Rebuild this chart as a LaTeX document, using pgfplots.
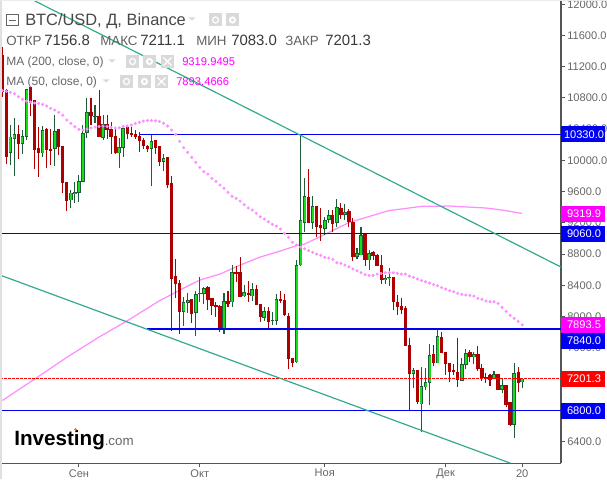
\documentclass[border=0pt]{standalone}
\usepackage{fontspec}
\setmainfont{Liberation Sans}
\usepackage{pgfplots}
\usepackage{pgfplotstable}
\pgfplotsset{compat=1.18}
\definecolor{candleRed}{HTML}{AE0000}
\definecolor{candleDark}{HTML}{1E5C3C}
\definecolor{candleGreen}{HTML}{14E014}
\definecolor{maPink}{HTML}{FF8FFF}
\definecolor{trendTeal}{HTML}{35A98F}
\definecolor{levelBlue}{HTML}{0000F0}
\definecolor{axisGray}{HTML}{555555}
\definecolor{labelGray}{HTML}{666666}
\definecolor{iconGray}{HTML}{D9D9D9}
\definecolor{boxMagenta}{HTML}{FF00FF}

% i high top bottom low
\pgfplotstableread{
i high top bottom low
0 11453 11350 10876 10812
1 10915 10902 10047 9953
4 10453 10338 10210 10018
7 10944 10944 10739 10569
8 10774 10774 10133 9889
9 10431 10159 10094 9791
11 10415 10402 10133 9902
12 10402 10146 10120 9941
14 10402 10402 10175 10069
15 10184 10184 9714 9582
16 9723 9723 9483 9355
22 10799 10620 10572 10453
24 10902 10569 10303 10303
26 10581 10466 10389 10274
27 10492 10402 10303 10082
28 10415 10312 10094 10082
31 10453 10431 10338 10274
32 10431 10351 10329 10299
33 10389 10338 10299 10274
34 10367 10312 10252 10111
35 10287 10261 10188 10146
36 10197 10188 10146 10107
38 10261 10261 10162 10082
39 10184 10184 9983 9928
41 10043 10043 9688 9646
42 9800 9710 8484 7817
43 8736 8518 8416 8240
44 8467 8429 8061 7779
47 8224 8224 8031 7920
51 8390 8377 8211 8083
52 8236 8236 8134 8019
53 8189 8147 8121 7997
54 8147 8134 7852 7804
56 8326 8198 8160 8125
58 8646 8570 8544 8441
59 8762 8570 8253 8253
61 8454 8300 8275 8189
63 8403 8352 8147 8147
64 8159 8159 7997 7933
66 8125 8070 7933 7835
69 8326 8224 8198 8172
70 8288 8207 8019 8006
71 8048 8006 7455 7330
72 7468 7468 7403 7352
76 9889 9527 9201 9201
78 9415 9415 9150 9022
79 9390 9172 9133 8971
82 9364 9300 9185 9086
84 9458 9390 9300 9249
86 9377 9351 9210 9146
87 9262 9210 8762 8710
90 9069 9065 8723 8650
92 8839 8826 8775 8723
93 8800 8787 8646 8646
94 8787 8659 8467 8416
97 8505 8505 8185 8083
98 8275 8185 8121 8019
99 8236 8134 8083 8031
100 8134 8108 7625 7625
101 7724 7634 7263 6801
103 7314 7314 6904 6878
107 7634 7519 7403 7365
109 7801 7737 7532 7532
110 7544 7544 7391 7250
111 7403 7403 7288 7160
112 7391 7314 7288 7250
113 7724 7288 7186 7096
116 7570 7544 7480 7416
118 7621 7519 7323 7301
119 7391 7339 7211 7177
120 7275 7224 7198 7151
121 7263 7250 7186 7109
123 7263 7263 7058 7058
125 7122 7122 6865 6844
126 6904 6904 6609 6596
128 7352 7288 7147 7032
}\downT

\pgfplotstableread{
i high top bottom low
2 10453 10303 10098 9941
3 10547 10338 10278 9800
5 10389 10312 10210 10082
6 10915 10915 10303 10261
10 10444 10389 10094 10043
13 10581 10376 10146 9928
17 9620 9586 9492 9390
18 9727 9595 9573 9458
19 9813 9736 9586 9470
20 10453 10347 9727 9727
21 10799 10620 10355 10287
23 10710 10569 10556 10479
25 10581 10466 10290 10261
29 10287 10171 10094 9906
30 10453 10415 10162 10047
37 10325 10248 10146 9675
40 10082 10030 9983 9868
45 8253 8185 8061 7882
46 8304 8211 8176 8048
48 8330 8288 8048 7749
49 8505 8300 8292 8185
50 8381 8364 8292 8160
55 8304 8198 7852 7779
57 8659 8570 8181 8125
60 8403 8310 8258 8253
62 8429 8352 8262 8198
65 8125 8070 7984 7941
67 8061 7954 7945 7890
68 8288 8224 7945 7890
73 8723 8659 7416 7407
74 10325 9236 8659 8650
75 9778 9543 9201 9086
77 9543 9415 9201 9124
80 9278 9236 9124 9044
81 9364 9300 9236 9201
83 9505 9402 9201 9146
85 9441 9338 9300 9236
88 8877 8813 8762 8736
89 9146 9044 8787 8787
91 8851 8813 8723 8595
95 8531 8493 8467 8416
96 8621 8505 8489 8390
102 7339 7314 7263 7087
104 7352 7109 6878 6523
105 7339 7160 7096 7058
106 7647 7506 7151 6865
108 7852 7749 7403 7403
114 7468 7391 7177 7177
115 7583 7532 7382 7330
117 7548 7519 7480 7391
122 7301 7263 7198 7198
124 7198 7122 7058 7019
127 7403 7275 6613 6446
129 7211 7201 7157 7083
}\upT

\pgfplotstableread{
i ma
0 10895
1 10885
2 10872
3 10854
4 10816
5 10783
6 10761
7 10748
8 10735
9 10731
10 10718
11 10697
12 10667
13 10645
14 10616
15 10578
16 10517
17 10475
18 10431
19 10398
20 10389
21 10402
22 10415
23 10428
24 10434
25 10440
26 10434
27 10424
28 10415
29 10419
30 10434
31 10440
32 10453
33 10472
34 10488
35 10504
36 10511
37 10511
38 10508
39 10498
40 10475
41 10440
42 10389
43 10334
44 10244
45 10162
46 10103
47 10039
48 9975
49 9911
50 9855
51 9825
52 9770
53 9732
54 9684
55 9642
56 9591
57 9540
58 9514
59 9479
60 9432
61 9390
62 9364
63 9322
64 9278
65 9249
66 9214
67 9181
68 9159
69 9121
70 9065
71 9014
72 8950
73 8916
74 8890
75 8868
76 8843
77 8822
78 8800
79 8784
80 8758
81 8749
82 8732
83 8689
84 8681
85 8659
86 8637
87 8608
88 8586
89 8561
90 8535
91 8527
92 8527
93 8544
94 8553
95 8561
96 8561
97 8561
98 8553
99 8544
100 8544
101 8518
102 8502
103 8480
104 8461
105 8445
106 8429
107 8409
108 8394
109 8371
110 8352
111 8330
112 8317
113 8297
114 8284
115 8275
116 8271
117 8262
118 8233
119 8220
120 8198
121 8189
122 8189
123 8168
124 8117
125 8066
126 8015
127 7976
128 7938
129 7893.5
}\maFifty

\pgfplotstableread{
i ma
0 6923
8 7198
16 7477
24 7737
31 7946
39 8202
45 8364
49 8467
54 8544
59 8659
64 8762
69 8839
73 8909
75 8928
81 9076
86 9204
91 9281
96 9358
99 9377
104 9411
111 9415
120 9390
124 9364
129 9319.9
}\maTwoHundred

% pixel helpers for the overlay
\newcommand{\pricebox}[3]{%
  \fill[#1] (561,#2-8) rectangle (605,#2+8);
  \node[anchor=center,inner sep=0,text=white,font=\fontsize{8.3}{10}\selectfont] at (584,#2) {#3};}
\newcommand{\ddtri}[2]{\fill[iconGray] (#1-3.5,#2-1.7) -- (#1+3.5,#2-1.7) -- (#1,#2+1.7) -- cycle;}
\newcommand{\eyeicon}[2]{\fill[iconGray] (#1,#2-6.5) rectangle (#1+13,#2+6.5);
  \draw[white,line width=.9pt] (#1+6.5,#2) circle[radius=3];}
\newcommand{\gearicon}[2]{\fill[iconGray] (#1,#2-6.5) rectangle (#1+13,#2+6.5);
  \draw[white,line width=1.4pt] (#1+6.5,#2) circle[radius=2.6];}
\newcommand{\xicon}[2]{\fill[iconGray] (#1,#2-6.5) rectangle (#1+13,#2+6.5);
  \draw[white,line width=.9pt] (#1+2.5,#2-4) -- (#1+10.5,#2+4) (#1+2.5,#2+4) -- (#1+10.5,#2-4);}

\begin{document}
\begin{tikzpicture}
\path[use as bounding box] (0,0) rectangle (455.25pt,359.25pt);
\begin{axis}[
  at={(0,359.25pt)}, anchor=north west,
  scale only axis, width=420.75pt, height=347.5pt,
  xmin=-0.578, xmax=138.62, ymin=6119, ymax=12055,
  axis x line=bottom, axis y line=right,
  axis line style={axisGray,-,line width=.8pt},
  tick style={axisGray,line width=.7pt},
  tick align=outside, major tick length=3pt,
  ytick={6400,6800,...,12000},
  scaled y ticks=false,
  xtick={19,49,80,110,129},
  xticklabels={Сен,Окт,Ноя,Дек,20},
  tick label style={text=labelGray,font=\fontsize{8.3}{10}\selectfont},
  y tick label style={/pgf/number format/fixed,/pgf/number format/fixed zerofill,/pgf/number format/precision=1,/pgf/number format/1000 sep={},/pgf/number format/assume math mode=true},
  yticklabel shift=-1.8pt,
  xticklabel shift=-2pt,
]
% moving averages sit behind the candles
\addplot[only marks,color=maPink,mark=*,mark size=.95pt,mark options={draw=none,fill=maPink}] table[x=i,y=ma] {\maFifty};
\addplot[maPink,line width=.95pt] table[x=i,y=ma] {\maTwoHundred};
% wicks
\addplot[draw=none,error bars/.cd,y dir=plus,y explicit,error mark=none,error bar style={candleRed,line width=.8pt}]
  table[x=i,y=low,y error plus expr={\thisrow{high}-\thisrow{low}}] {\downT};
\addplot[draw=none,error bars/.cd,y dir=plus,y explicit,error mark=none,error bar style={candleDark,line width=.8pt}]
  table[x=i,y=low,y error plus expr={\thisrow{high}-\thisrow{low}}] {\upT};
% bodies
\addplot[draw=none,error bars/.cd,y dir=plus,y explicit,error mark=none,error bar style={candleRed,line width=2.5pt}]
  table[x=i,y=bottom,y error plus expr={\thisrow{top}-\thisrow{bottom}}] {\downT};
\addplot[draw=none,error bars/.cd,y dir=plus,y explicit,error mark=none,error bar style={candleDark,line width=2.7pt}]
  table[x=i,y=bottom,y error plus expr={\thisrow{top}-\thisrow{bottom}}] {\upT};
\addplot[draw=none,error bars/.cd,y dir=plus,y explicit,error mark=none,error bar style={candleGreen,line width=1.5pt}]
  table[x=i,y expr={\thisrow{bottom}+7},y error plus expr={max(\thisrow{top}-\thisrow{bottom}-14,0)}] {\upT};
% levels
\addplot[levelBlue,line width=.8pt] coordinates {(34.2,10330) (138.62,10330)};
\addplot[levelBlue,line width=.8pt] coordinates {(-0.578,9060) (138.62,9060)};
\addplot[levelBlue,line width=.8pt] coordinates {(35.9,7840) (138.62,7840)};
\addplot[levelBlue,line width=.8pt] coordinates {(-0.578,6800) (138.62,6800)};
\addplot[red,line width=.8pt,dash pattern=on 2pt off 1pt] coordinates {(-0.578,7201.3) (138.62,7201.3)};
% trend lines
\addplot[trendTeal,line width=.9pt] coordinates {(7.61,12055) (138.62,8634)};
\addplot[trendTeal,line width=.9pt] coordinates {(-0.578,8531) (126,6122)};
\end{axis}
% overlay in image pixels, y downwards
\begin{scope}[shift={(0pt,359.25pt)},x=.75pt,y=-.75pt]
\fill[black!12] (0,0) rectangle (1.5,479);
\fill[black!8] (0,0) rectangle (607,1);
\pricebox{levelBlue}{134.5}{10330.0}
\pricebox{boxMagenta}{214}{9319.9}
\pricebox{levelBlue}{234}{9060.0}
\pricebox{boxMagenta}{325}{7893.5}
\pricebox{levelBlue}{341}{7840.0}
\pricebox{red}{379}{7201.3}
\pricebox{levelBlue}{410.7}{6800.0}
% header
\draw[labelGray,line width=.6pt] (6.5,14.5) rectangle (18.5,25.5) (9,20) -- (16,20);
\node[anchor=base west,inner sep=0,text=black!72,font=\fontsize{12.3}{14}\selectfont] at (25,26) {BTC/USD, Д, Binance};
\ddtri{192}{19}
\eyeicon{209}{20}\gearicon{226}{20}
\begin{scope}[every node/.style={anchor=base west,inner sep=0}]
\node[text=black!62,font=\fontsize{10}{12}\selectfont] at (6,46) {ОТКР};
\node[text=black!78,font=\fontsize{11.2}{13}\selectfont] at (44,46) {7156.8};
\node[text=black!62,font=\fontsize{10}{12}\selectfont] at (100,46) {МАКС};
\node[text=black!78,font=\fontsize{11.2}{13}\selectfont] at (140,46) {7211.1};
\node[text=black!62,font=\fontsize{10}{12}\selectfont] at (196,46) {МИН};
\node[text=black!78,font=\fontsize{11.2}{13}\selectfont] at (231,46) {7083.0};
\node[text=black!62,font=\fontsize{10}{12}\selectfont] at (285,46) {ЗАКР};
\node[text=black!78,font=\fontsize{11.2}{13}\selectfont] at (325,46) {7201.3};
\node[text=labelGray,font=\fontsize{9}{11}\selectfont] at (6,65.5) {MA (200, close, 0)};
\node[text=boxMagenta,font=\fontsize{8.4}{10}\selectfont] at (182,65.5) {9319.9495};
\node[text=labelGray,font=\fontsize{9}{11}\selectfont] at (6,85.5) {MA (50, close, 0)};
\node[text=boxMagenta,font=\fontsize{8.4}{10}\selectfont] at (176,85.5) {7893.4666};
\node[text=black,font=\fontsize{15.5}{18}\bfseries] at (14,445) {Investing};
\node[text=black!60,font=\fontsize{10}{12}\selectfont] at (104.5,445) {.com};
\end{scope}
\ddtri{112}{61}
\eyeicon{126}{61.5}\gearicon{143}{61.5}\xicon{161}{61.5}
\ddtri{106}{81}
\eyeicon{120}{81.5}\gearicon{138}{81.5}\xicon{155}{81.5}
\fill[orange] (75.5,429.5) circle[radius=1.6];
\end{scope}
\end{tikzpicture}
\end{document}
